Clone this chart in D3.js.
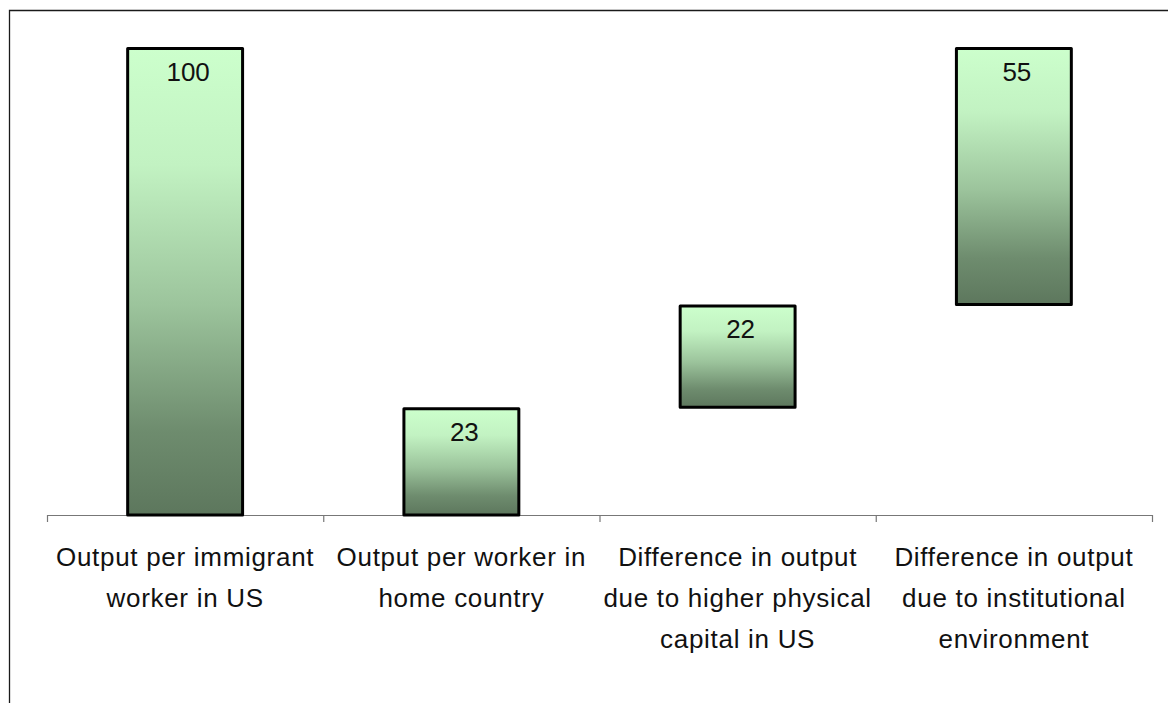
<!DOCTYPE html>
<html>
<head>
<meta charset="utf-8">
<script src="https://cdn.jsdelivr.net/npm/d3@7/dist/d3.min.js"></script>
<style>
  html, body { margin: 0; padding: 0; background: #fff; }
  svg { display: block; font-family: "Liberation Sans", Arial, sans-serif; }
</style>
</head>
<body>
<svg id="chart" width="1168" height="703"></svg>
<script>
// waterfall data: each bar runs from base to base + value
const categories = [
  ['Output per immigrant', 'worker in US'],
  ['Output per worker in', 'home country'],
  ['Difference in output', 'due to higher physical', 'capital in US'],
  ['Difference in output', 'due to institutional', 'environment']
];
const values = [100, 23, 22, 55];
const bases = [0, 0, 23, 45];
const yDomain = [0, 100];

const W = 1168, H = 703;
const axisY = 515, plotTop = 47, plotLeft = 47, plotRight = 1152;

const svg = d3.select('#chart');

const defs = svg.append('defs');
const grad = defs.append('linearGradient')
  .attr('id', 'barGrad')
  .attr('x1', 0).attr('y1', 0).attr('x2', 0).attr('y2', 1);
[[0, '#ccffcc'], [0.25, '#c2f2c2'], [0.55, '#9cc49c'], [0.82, '#6e8c6e'], [1, '#5d775d']]
  .forEach(([o, c]) => grad.append('stop').attr('offset', o).attr('stop-color', c));

// frame (top + left edge of chart area)
svg.append('path')
  .attr('d', `M9.5,${H} V10.5 H${W}`)
  .attr('fill', 'none')
  .attr('stroke', '#1a1a1a')
  .attr('stroke-width', 1.3);

const idx = categories.map((d, i) => i);
const x = d3.scaleBand().domain(idx).range([plotLeft, plotRight])
  .paddingInner(0.584).paddingOuter(0.292);
const y = d3.scaleLinear().domain(yDomain).range([axisY, plotTop]);

// category axis with tick marks at band boundaries
const xEdges = d3.scaleLinear().domain([0, categories.length]).range([plotLeft, plotRight]);
const axis = svg.append('g')
  .attr('transform', `translate(0,${axisY})`)
  .call(d3.axisBottom(xEdges).tickValues(d3.range(categories.length + 1)).tickSize(7).tickFormat(''));
axis.select('.domain').attr('stroke', '#777').attr('stroke-width', 1.2).attr('d', `M${plotLeft},0.5H${plotRight}`);
axis.selectAll('.tick line').attr('stroke', '#777').attr('stroke-width', 1.2);

// bars
svg.append('g').selectAll('rect')
  .data(idx)
  .join('rect')
  .attr('x', i => x(i))
  .attr('width', x.bandwidth())
  .attr('y', i => y(bases[i] + values[i]) + 1.5)
  .attr('height', i => y(bases[i]) - y(bases[i] + values[i]) - 1.5)
  .attr('fill', 'url(#barGrad)')
  .attr('stroke', '#000')
  .attr('stroke-width', 3)
  .attr('stroke-linejoin', 'round');

// value labels
svg.append('g').selectAll('text')
  .data(idx)
  .join('text')
  .attr('x', i => x(i) + x.bandwidth() / 2 + 3)
  .attr('y', i => y(bases[i] + values[i]) + 34)
  .attr('text-anchor', 'middle')
  .attr('font-size', 26)
  .attr('fill', '#111')
  .text(i => values[i]);

// category labels
const lab = svg.append('g').selectAll('text')
  .data(idx)
  .join('text')
  .attr('x', i => x(i) + x.bandwidth() / 2)
  .attr('y', 566)
  .attr('text-anchor', 'middle')
  .attr('font-size', 26)
  .attr('letter-spacing', 0.7)
  .attr('fill', '#111');
lab.selectAll('tspan')
  .data(i => categories[i].map(t => ({ t, cx: x(i) + x.bandwidth() / 2 })))
  .join('tspan')
  .attr('x', d => d.cx)
  .attr('dy', (d, j) => j === 0 ? 0 : 41)
  .text(d => d.t);
</script>
</body>
</html>
